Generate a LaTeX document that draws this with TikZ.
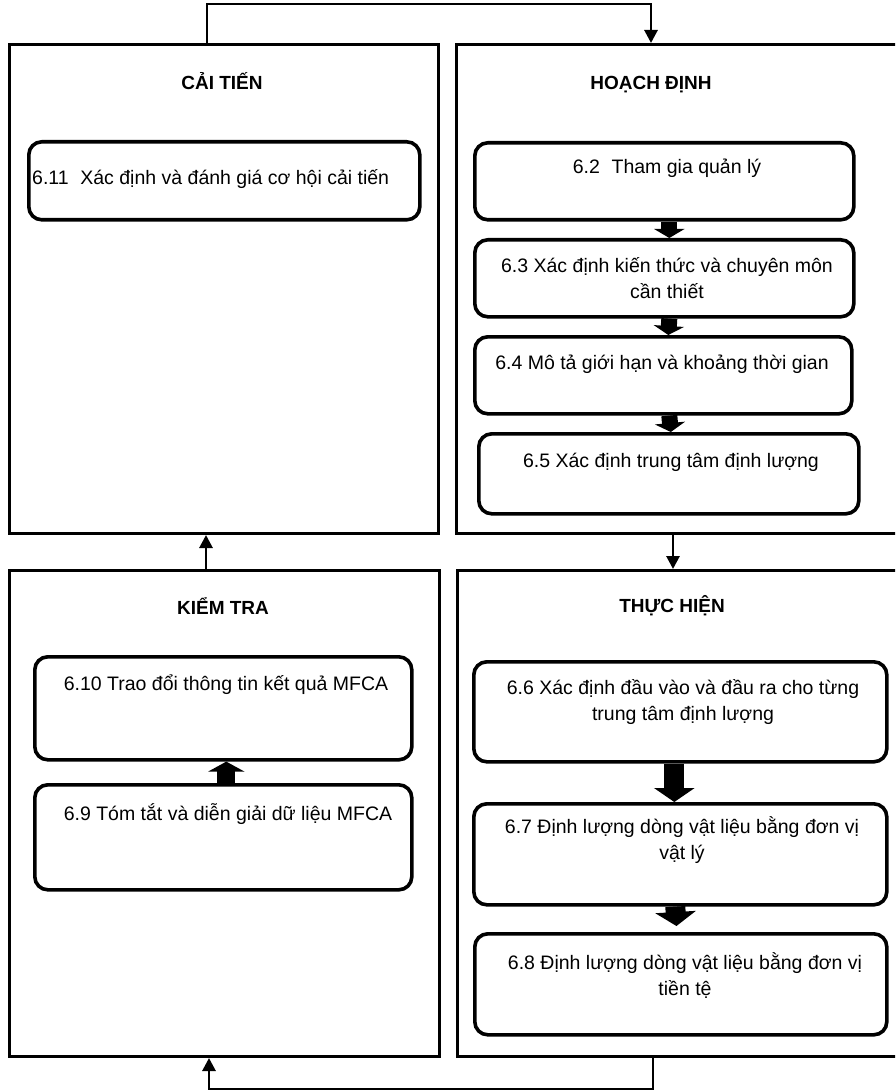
\documentclass[tikz,border=0pt]{standalone}
\usepackage{fontspec}
\setmainfont{Liberation Sans}
\usetikzlibrary{arrows.meta}
\begin{document}
\begin{tikzpicture}[x=1pt,y=-1pt,
  outbox/.style={draw, line width=3pt, anchor=north west, inner sep=0pt},
  inbox/.style={draw, line width=3.6pt, rounded corners=13pt, anchor=north west, inner sep=0pt},
  head/.style={font=\fontsize{19}{23}\selectfont\bfseries, anchor=base, inner sep=0pt},
  txt/.style={font=\fontsize{19.5}{26}\selectfont, anchor=base, align=center, inner sep=0pt},
  flow/.style={line width=2.8pt, -{Triangle[length=13pt,width=13pt]}},
  fatarrow/.style={line width=16pt, -{Triangle[length=9pt,width=30pt]}},
  bigarrow/.style={line width=20pt, -{Triangle[length=14pt,width=40pt]}}
]
\useasboundingbox (0,0) rectangle (895,1091);
\fill[white] (0,0) rectangle (895,1091);
\clip (0,0) rectangle (895,1091);

% four phase frames
\node[outbox, minimum width=429pt, minimum height=489pt] (tl) at (8,43) {};
\node[outbox, minimum width=470pt, minimum height=489pt] (tr) at (455,43) {};
\node[outbox, minimum width=430pt, minimum height=486pt] (bl) at (8,569) {};
\node[outbox, minimum width=470pt, minimum height=486pt] (br) at (456,569) {};

% phase titles
\node[head] (hci) at (222,90) {CẢI TIẾN};
\node[head] (hhd) at (651,90) {HOẠCH ĐỊNH};
\node[head] (hkt) at (223,614) {KIỂM TRA};
\node[head] (hth) at (672,612) {THỰC HIỆN};

% step boxes
\node[inbox, minimum width=391pt, minimum height=78pt] (b611) at (27,140) {};
\node[inbox, minimum width=379pt, minimum height=77pt] (b62) at (473,141) {};
\node[inbox, minimum width=379pt, minimum height=77pt] (b63) at (473,238) {};
\node[inbox, minimum width=377pt, minimum height=77pt] (b64) at (473,335) {};
\node[inbox, minimum width=380pt, minimum height=80pt] (b65) at (477,432) {};
\node[inbox, minimum width=413pt, minimum height=100pt] (b66) at (472,660) {};
\node[inbox, minimum width=413pt, minimum height=101pt] (b67) at (472,802) {};
\node[inbox, minimum width=412pt, minimum height=101pt] (b68) at (473,932) {};
\node[inbox, minimum width=377pt, minimum height=103pt] (b610) at (33,655) {};
\node[inbox, minimum width=377pt, minimum height=105pt] (b69) at (33,783) {};

% step texts (two-line texts are placed by the baseline of their last line)
\node[txt, anchor=base west] (t611) at (32,185) {6.11\hspace{0.6em}Xác định và đánh giá cơ hội cải tiến};
\node[txt] (t62) at (667,174) {6.2\hspace{0.6em}Tham gia quản lý};
\node[txt] (t63) at (667,298) {6.3 Xác định kiến thức và chuyên môn\\cần thiết};
\node[txt] (t64) at (662,369) {6.4 Mô tả giới hạn và khoảng thời gian};
\node[txt] (t65) at (671,467) {6.5 Xác định trung tâm định lượng};
\node[txt] (t66) at (683,720) {6.6 Xác định đầu vào và đầu ra cho từng\\trung tâm định lượng};
\node[txt] (t67) at (682,859) {6.7 Định lượng dòng vật liệu bằng đơn vị\\vật lý};
\node[txt] (t68) at (685,995) {6.8 Định lượng dòng vật liệu bằng đơn vị\\tiền tệ};
\node[txt] (t610) at (226,690) {6.10 Trao đổi thông tin kết quả MFCA};
\node[txt] (t69) at (228,820) {6.9 Tóm tắt và diễn giải dữ liệu MFCA};

% arrows between steps
\draw[fatarrow] ([xshift=5pt]b62.south) -- ([xshift=5pt]b63.north);
\draw[fatarrow] ([xshift=5pt]b63.south) -- ([xshift=5pt]b64.north);
\draw[fatarrow] ([xshift=6pt]b64.south) -- ([xshift=2pt]b65.north);
\draw[bigarrow] ([xshift=-6pt]b66.south) -- ([xshift=-6pt]b67.north);
\draw[bigarrow, shorten >=6pt] ([xshift=-5pt]b67.south) -- ([xshift=-4pt]b68.north);
\draw[bigarrow, line width=18pt, -{Triangle[length=10pt,width=36pt]}] ([xshift=3pt]b69.north) -- ([xshift=3pt]b610.south);

% cycle between phases
\coordinate (c1) at (207,4);
\coordinate (c2) at (651,4);
\coordinate (c3) at (653,1089);
\coordinate (c4) at (209,1089);
\coordinate (mr) at (673,550);
\coordinate (ml) at (206,550);
\draw[flow] (tl.north -| c1) -- (c1) -- (c2) -- (tr.north -| c2);
\draw[flow] (tr.south -| mr) -- (br.north -| mr);
\draw[flow] (br.south -| c3) -- (c3) -- (c4) -- (bl.south -| c4);
\draw[flow] (bl.north -| ml) -- (tl.south -| ml);
\end{tikzpicture}
\end{document}
